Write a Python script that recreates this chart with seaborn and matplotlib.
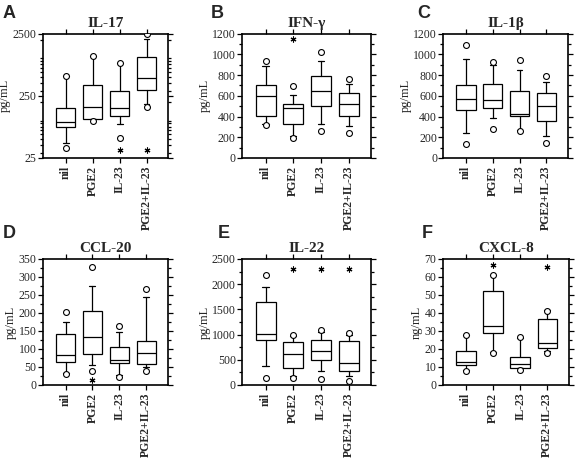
import numpy as np
import matplotlib
matplotlib.use("Agg")
import matplotlib.pyplot as plt
from matplotlib.ticker import MultipleLocator, FixedLocator, LogLocator, NullFormatter
import seaborn as sns

categories = ["nil", "PGE2", "IL-23", "PGE2+IL-23"]

# A: IL-17 (log scale)
il17_whislo = [44, 105, 88, 185]
il17_q1 = [80, 105, 118, 310]
il17_med = [94, 165, 159, 490]
il17_q3 = [159, 374, 299, 1040]
il17_whishi = [515, 1107, 853, 2050]
il17_out_lo = [36, 100, 52, 167]
il17_out_hi = [515, 1107, 853, 2470]
il17_stars = [(2, 33), (3, 33)]

# B: IFN-gamma
ifng_whislo = [326, 214, 326, 304]
ifng_q1 = [410, 326, 502, 410]
ifng_med = [598, 483, 646, 525]
ifng_q3 = [701, 522, 790, 624]
ifng_whishi = [886, 605, 934, 710]
ifng_out_lo = [320, 189, 262, 237]
ifng_out_hi = [934, 694, 1024, 765]
ifng_stars = [(1, 1152)]

# C: IL-1beta
il1b_whislo = [237, 384, 272, 208]
il1b_q1 = [467, 483, 406, 358]
il1b_med = [566, 560, 429, 502]
il1b_q3 = [707, 717, 643, 630]
il1b_whishi = [960, 902, 848, 733]
il1b_out_lo = [134, 278, 256, 144]
il1b_out_hi = [1088, 928, 944, 790]
il1b_stars = []

# D: CCL-20
ccl20_whislo = [32, 56, 28, 49]
ccl20_q1 = [63, 85, 60, 58]
ccl20_med = [83, 133, 69, 88]
ccl20_q3 = [142, 206, 105, 122]
ccl20_whishi = [174, 276, 148, 245]
ccl20_out_lo = [31, 40, 23, 38]
ccl20_out_hi = [202, 327, 164, 267]
ccl20_stars = [(1, 14)]

# E: IL-22
il22_whislo = [377, 179, 278, 185]
il22_q1 = [886, 344, 496, 284]
il22_med = [1012, 608, 681, 430]
il22_q3 = [1640, 853, 886, 873]
il22_whishi = [1951, 972, 1058, 992]
il22_out_lo = [146, 146, 126, 86]
il22_out_hi = [2183, 992, 1091, 1025]
il22_stars = [(1, 2302), (2, 2302), (3, 2302)]

# F: CXCL-8
cxcl8_whislo = [8.4, 18.6, 9.3, 18.9]
cxcl8_q1 = [11.1, 28.8, 9.7, 20.4]
cxcl8_med = [13.0, 32.5, 11.5, 23.2]
cxcl8_q3 = [19.1, 52.4, 15.8, 36.6]
cxcl8_whishi = [27.8, 60.9, 26.0, 41.5]
cxcl8_out_lo = [7.8, 17.5, 8.4, 17.6]
cxcl8_out_hi = [27.8, 60.9, 26.9, 41.2]
cxcl8_stars = [(1, 66.5), (3, 65.4)]

sns.set_style("ticks")
plt.rcParams['font.family'] = ['Liberation Serif', 'DejaVu Serif']
plt.rcParams['axes.linewidth'] = 1.2

fig = plt.figure(figsize=(5.75, 4.61), dpi=100)

panels = [
    # letter, title, ylabel, stats, stars, rect, letter pos
    ("A", "IL-17", "pg/mL",
     (il17_whislo, il17_q1, il17_med, il17_q3, il17_whishi, il17_out_lo, il17_out_hi),
     il17_stars, [0.0743, 0.6573, 0.218, 0.2696], (3, 18)),
    ("B", "IFN-γ", "pg/mL",
     (ifng_whislo, ifng_q1, ifng_med, ifng_q3, ifng_whishi, ifng_out_lo, ifng_out_hi),
     ifng_stars, [0.4209, 0.6573, 0.2238, 0.2696], (211, 18)),
    ("C", "IL-1β", "pg/mL",
     (il1b_whislo, il1b_q1, il1b_med, il1b_q3, il1b_whishi, il1b_out_lo, il1b_out_hi),
     il1b_stars, [0.771, 0.6573, 0.2163, 0.2696], (417, 18)),
    ("D", "CCL-20", "pg/mL",
     (ccl20_whislo, ccl20_q1, ccl20_med, ccl20_q3, ccl20_whishi, ccl20_out_lo, ccl20_out_hi),
     ccl20_stars, [0.0743, 0.1649, 0.2174, 0.2733], (3, 238)),
    ("E", "IL-22", "pg/mL",
     (il22_whislo, il22_q1, il22_med, il22_q3, il22_whishi, il22_out_lo, il22_out_hi),
     il22_stars, [0.4209, 0.1649, 0.2238, 0.2733], (218, 238)),
    ("F", "CXCL-8", "ng/mL",
     (cxcl8_whislo, cxcl8_q1, cxcl8_med, cxcl8_q3, cxcl8_whishi, cxcl8_out_lo, cxcl8_out_hi),
     cxcl8_stars, [0.770, 0.1649, 0.2197, 0.2733], (422, 238)),
]

yaxis_setup = {
    "A": dict(log=True, lim=(25, 2500), ticks=[25, 250, 2500]),
    "B": dict(log=False, lim=(0, 1200), major=200, minor=100),
    "C": dict(log=False, lim=(0, 1200), major=200, minor=100),
    "D": dict(log=False, lim=(0, 350), major=50, minor=25),
    "E": dict(log=False, lim=(0, 2500), major=500, minor=250),
    "F": dict(log=False, lim=(0, 70), major=10, minor=5),
}

pos = np.arange(len(categories))

for letter, title, ylabel, stats, stars, rect, lpos in panels:
    ax = fig.add_axes(rect)
    whislo, q1, med, q3, whishi, out_lo, out_hi = stats
    bstats = [dict(whislo=whislo[i], q1=q1[i], med=med[i], q3=q3[i],
                   whishi=whishi[i], fliers=[]) for i in range(len(categories))]
    ax.bxp(bstats, positions=pos, widths=0.72, capwidths=0.22,
           showfliers=False, patch_artist=True,
           boxprops=dict(facecolor='white', edgecolor='black', linewidth=0.9),
           medianprops=dict(color='black', linewidth=0.9),
           whiskerprops=dict(color='black', linewidth=0.9),
           capprops=dict(color='black', linewidth=0.9))

    # min / max points as open circles
    sns.scatterplot(x=np.concatenate([pos, pos]), y=list(out_lo) + list(out_hi),
                    ax=ax, marker='o', color='white', edgecolor='black',
                    linewidth=0.8, s=18, zorder=4, legend=False)

    # significance asterisks
    for cx, cy in stars:
        ax.plot(cx, cy, marker=(6, 2, 0), markersize=4.2, color='black',
                markeredgewidth=0.8, zorder=5, clip_on=False)

    cfg = yaxis_setup[letter]
    if cfg["log"]:
        ax.set_yscale('log')
        ax.set_ylim(*cfg["lim"])
        ax.yaxis.set_major_locator(FixedLocator(cfg["ticks"]))
        ax.set_yticklabels([str(t) for t in cfg["ticks"]])
        ax.yaxis.set_minor_locator(LogLocator(base=10, subs=np.arange(1, 10)))
        ax.yaxis.set_minor_formatter(NullFormatter())
    else:
        ax.set_ylim(*cfg["lim"])
        ax.yaxis.set_major_locator(MultipleLocator(cfg["major"]))
        ax.yaxis.set_minor_locator(MultipleLocator(cfg["minor"]))

    ax.set_xlim(-0.85, 3.8)
    ax.set_xticks(pos)
    ax.set_xticklabels(categories, rotation=90, fontweight='bold', fontsize=8.5)
    ax.tick_params(axis='y', labelsize=8.5, pad=1)
    ax.tick_params(which='both', direction='out', top=True, right=True,
                   width=0.9, color='black')
    ax.tick_params(which='major', length=3.5)
    ax.tick_params(which='minor', length=2)
    ax.tick_params(axis='x', pad=2)
    for s in ax.spines.values():
        s.set_visible(True)
        s.set_linewidth(1.2)
        s.set_color('black')
    ax.set_ylabel(ylabel, fontsize=9, labelpad=1)
    ax.set_title(title, fontsize=11, fontweight='bold', pad=5)

    fig.text(lpos[0] / 575, 1 - lpos[1] / 461, letter, fontsize=13,
             fontweight='bold', family=['Liberation Sans', 'DejaVu Sans'],
             ha='left', va='baseline')

fig.savefig("out.png", dpi=100)
